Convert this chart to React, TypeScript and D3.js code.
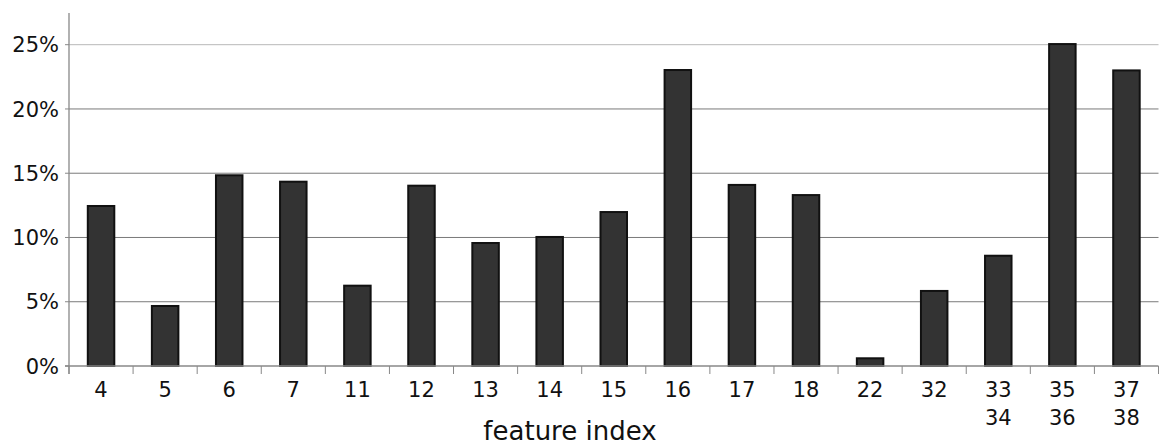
import React from "react";
import * as d3 from "d3";

const categories: string[][] = [
  ["4"], ["5"], ["6"], ["7"], ["11"], ["12"], ["13"], ["14"], ["15"], ["16"],
  ["17"], ["18"], ["22"], ["32"], ["33", "34"], ["35", "36"], ["37", "38"],
];
const values: number[] = [
  12.45, 4.67, 14.84, 14.34, 6.25, 14.03, 9.57, 10.04, 11.98, 23.03,
  14.09, 13.3, 0.6, 5.84, 8.58, 25.05, 23.0,
];
const yTicks: number[] = [0, 5, 10, 15, 20, 25];
const xTitle = "feature index";

const W = 1161;
const H = 444;
const left = 69;
const right = 1158.5;
const top = 13;
const bottom = 366;

export default function App() {
  const keys = categories.map((c) => c.join("/"));
  const x = d3.scaleBand<string>().domain(keys).range([left, right]).paddingInner(0).paddingOuter(0);
  const y = d3.scaleLinear().domain([0, 25]).range([bottom, 44.7]);
  const bw = 26.5;
  const font = "'DejaVu Sans', sans-serif";

  return (
    <svg
      width={W}
      height={H}
      style={{ position: "absolute", left: 0, top: 0, background: "#fff" }}
      fontFamily={font}
    >
      {yTicks.map((t) => (
        <g key={t}>
          {t > 0 && (
            <line x1={left} x2={right} y1={y(t)} y2={y(t)} stroke={t === 25 ? "#b8b8b8" : "#7a7a7a"} strokeWidth={1} />
          )}
          <line x1={left - 4} x2={left} y1={y(t)} y2={y(t)} stroke="#888" strokeWidth={1} />
          <text x={59} y={y(t)} dy="0.36em" textAnchor="end" fontSize={21} fill="#111">
            {t}%
          </text>
        </g>
      ))}
      {categories.map((c, i) => {
        const k = keys[i];
        const cx = (x(k) as number) + x.bandwidth() / 2;
        const v = values[i];
        return (
          <g key={k}>
            <rect
              x={cx - bw / 2}
              y={y(v)}
              width={bw}
              height={bottom - y(v)}
              fill="#333333"
              stroke="#111"
              strokeWidth={2}
            />
            {c.map((s, j) => (
              <text key={j} x={cx} y={397 + j * 28} textAnchor="middle" fontSize={21} fill="#111">
                {s}
              </text>
            ))}
          </g>
        );
      })}
      {[...keys.map((k) => x(k) as number), right].map((tx, i) => (
        <line key={i} x1={tx} x2={tx} y1={bottom} y2={bottom + 8} stroke="#888" strokeWidth={1} />
      ))}
      <line x1={left} x2={left} y1={top} y2={bottom + 8} stroke="#888" strokeWidth={1.3} />
      <line x1={left - 4} x2={right} y1={bottom} y2={bottom} stroke="#888" strokeWidth={1.3} />
      <text x={570} y={440} textAnchor="middle" fontSize={26} fill="#111">
        {xTitle}
      </text>
    </svg>
  );
}
